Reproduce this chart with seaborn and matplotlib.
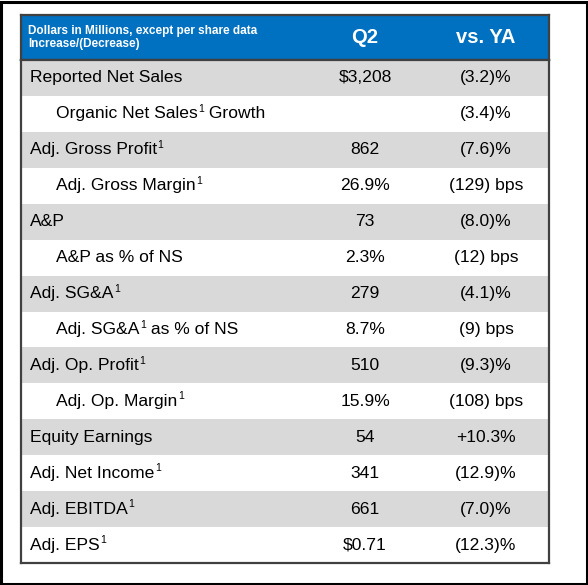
import numpy as np
import matplotlib
matplotlib.use("Agg")
import matplotlib.pyplot as plt
import seaborn as sns
from matplotlib.colors import ListedColormap
from matplotlib.patches import Rectangle

sns.set_theme(style="white")
plt.rcParams["font.family"] = ["Liberation Sans", "DejaVu Sans"]

# table content ("^1" marks a footnote superscript)
header_note = ["Dollars in Millions, except per share data", "Increase/(Decrease)"]
col_headers = ["Q2", "vs. YA"]
row_labels = [
    "Reported Net Sales",
    "Organic Net Sales^1 Growth",
    "Adj. Gross Profit^1",
    "Adj. Gross Margin^1",
    "A&P",
    "A&P as % of NS",
    "Adj. SG&A^1",
    "Adj. SG&A^1 as % of NS",
    "Adj. Op. Profit^1",
    "Adj. Op. Margin^1",
    "Equity Earnings",
    "Adj. Net Income^1",
    "Adj. EBITDA^1",
    "Adj. EPS^1",
]
indented = [False, True, False, True, False, True, False, True, False, True,
            False, False, False, False]
q2_values = ["$3,208", "", "862", "26.9%", "73", "2.3%", "279", "8.7%",
             "510", "15.9%", "54", "341", "661", "$0.71"]
vs_ya_values = ["(3.2)%", "(3.4)%", "(7.6)%", "(129) bps", "(8.0)%", "(12) bps",
                "(4.1)%", "(9) bps", "(9.3)%", "(108) bps", "+10.3%", "(12.9)%",
                "(7.0)%", "(12.3)%"]
row_shade = [1, 0, 1, 0, 1, 0, 1, 0, 1, 0, 1, 0, 1, 0]

W, H = 588, 585
FS = 12.6
fig = plt.figure(figsize=(W / 100, H / 100), dpi=100)
fig.patch.set_facecolor("white")
# black outer frame, 3 px wide
fig.patches.append(Rectangle((1.5 / W, 1.5 / H), (W - 3) / W, (H - 3) / H,
                             transform=fig.transFigure, facecolor="none",
                             edgecolor="black", linewidth=2.2))

left, right = 21, 549
top, head_bot, bot = 15, 60, 563
border = "#404040"

# header band
ax_h = fig.add_axes([left / W, (H - head_bot) / H, (right - left) / W,
                     (head_bot - top) / H])
ax_h.set_facecolor("#0070C0")
ax_h.set_xlim(0, 1)
ax_h.set_ylim(0, 1)
ax_h.set_xticks([])
ax_h.set_yticks([])
for s in ax_h.spines.values():
    s.set_visible(True)
    s.set_color(border)
    s.set_linewidth(1.6)

x_label = (30 - left) / (right - left)
x_indent = (56 - left) / (right - left)
x_q2 = (365 - left) / (right - left)
x_ya = (486 - left) / (right - left)

ax_h.text((28 - left) / (right - left), 0.64, header_note[0], color="white",
          fontsize=8.5, fontweight="bold", va="center", ha="left")
ax_h.text((28 - left) / (right - left), 0.35, header_note[1], color="white",
          fontsize=8.5, fontweight="bold", va="center", ha="left")
ax_h.text(x_q2, 0.49, col_headers[0], color="white", fontsize=14.5,
          fontweight="bold", va="center", ha="center")
ax_h.text(x_ya, 0.49, col_headers[1], color="white", fontsize=14.5,
          fontweight="bold", va="center", ha="center")

# body rows as a one-column heatmap
ax_b = fig.add_axes([left / W, (H - bot) / H, (right - left) / W,
                     (bot - head_bot) / H])
shade = np.array(row_shade).reshape(-1, 1)
sns.heatmap(shade, ax=ax_b, cmap=ListedColormap(["white", "#D9D9D9"]),
            vmin=0, vmax=1, cbar=False, xticklabels=False, yticklabels=False)
for s in ax_b.spines.values():
    s.set_visible(True)
    s.set_color(border)
    s.set_linewidth(1.6)


def label_with_sup(ax, x, y, label):
    parts = label.split("^1")
    base = ax.text(x, y, parts[0], fontsize=FS, color="black",
                   va="center", ha="left")
    prev = base
    for rest in parts[1:]:
        sup = ax.annotate("1", xy=(1, 1), xycoords=prev, xytext=(0.4, 1.7),
                          textcoords="offset points", fontsize=7.5,
                          color="black", va="top", ha="left")
        if rest:
            prev = ax.annotate(rest, xy=(1, 0), xycoords=(sup, base),
                               fontsize=FS, color="black",
                               va="bottom", ha="left")


for i, lab in enumerate(row_labels):
    y = i + 0.5
    x = x_indent if indented[i] else x_label
    label_with_sup(ax_b, x, y, lab)
    ax_b.text(x_q2, y, q2_values[i], fontsize=FS, color="black",
              va="center", ha="center")
    ax_b.text(x_ya, y, vs_ya_values[i], fontsize=FS, color="black",
              va="center", ha="center")

fig.savefig("out.png", dpi=100, facecolor=fig.get_facecolor())
